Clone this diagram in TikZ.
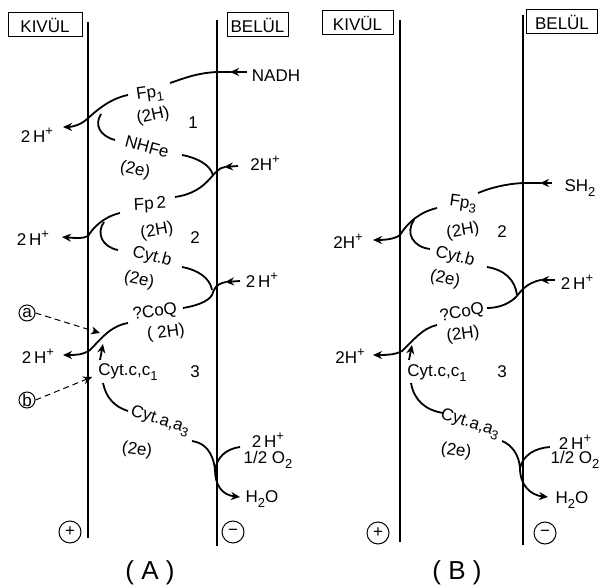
\documentclass[tikz,border=0pt]{standalone}
\usepackage{fontspec}
\setmainfont{Liberation Sans}
\usetikzlibrary{arrows.meta}
\newcommand\lsub[1]{\raisebox{-0.5ex}{\fontsize{6.5}{7}\selectfont #1}}
\newcommand\lsup[1]{\raisebox{0.8ex}{\fontsize{6.5}{7}\selectfont #1}}
\begin{document}
\begin{tikzpicture}[x=0.5pt,y=-0.5pt,
  t/.style={font=\fontsize{8.5}{10}\selectfont, inner sep=0pt},
  lbox/.style={draw, line width=0.5pt, inner sep=0pt, minimum height=12pt, font=\fontsize{8.5}{10}\selectfont},
  mem/.style={line width=0.7pt},
  cv/.style={line width=0.9pt},
  arr/.style={-{Stealth[length=4.5pt,width=4pt]}},
  dsh/.style={dashed, dash pattern=on 3pt off 2pt, line width=0.5pt},
  ring/.style={draw, circle, line width=0.5pt, inner sep=0pt, font=\fontsize{8.5}{10}\selectfont}]
\useasboundingbox (0,0) rectangle (603,587);

% ---------------- Panel A ----------------
\node[lbox, minimum width=37pt] (kivA) at (45,25) {KIVÜL};
\node[lbox, minimum width=30.5pt] (belA) at (257.5,25) {BELÜL};
\coordinate (mAlt) at (88,22);  \coordinate (mAlb) at (88,538);
\coordinate (mArt) at (217,20); \coordinate (mArb) at (217,546);
\draw[mem] (mAlt) -- (mAlb);
\draw[mem] (mArt) -- (mArb);

\node[t] (nadh) at (276,76) {NADH};
\node[t, rotate=8] (fp1) at (150,94) {Fp\lsub{1}};
\node[t, rotate=12] (fp1h) at (153,116) {(2H)};
\node[t] (n1) at (193,123) {1};
\node[t] (hA1) at (37,135) {2\,H\lsup{+}};
\node[t, rotate=-15] (nhfe) at (147,147) {NHFe};
\node[t, rotate=-12] (nhfee) at (135,170) {(2e)};
\node[t] (hA2) at (265,163) {2H\lsup{+}};
\node[t, rotate=3] (fp2) at (150,205) {Fp\,2};
\node[t, rotate=10] (fp2h) at (157,231) {(2H)};
\node[t] (n2) at (195,238) {2};
\node[t] (hA3) at (33,238) {2\,H\lsup{+}};
\node[t, rotate=-15] (cytb) at (152,257) {Cyt.b};
\node[t, rotate=-12] (cytbe) at (139,280) {(2e)};
\node[t] (hA4) at (262,280) {2\,H\lsup{+}};
\node[t, rotate=8] (coq) at (155,312) {?CoQ};
\node[t, rotate=8] (coqh) at (166,333) {( 2H)};
\node[t] (hA5) at (38,356) {2\,H\lsup{+}};
\node[t] (cytc) at (128,372) {Cyt.c,c\lsub{1}};
\node[t] (n3) at (195,372) {3};
\node[t, rotate=-18] (cyta) at (160,421) {Cyt.a,a\lsub{3}};
\node[t, rotate=-8] (cytae) at (137,450) {(2e)};
\node[t] (hA6) at (268,440) {2\,H\lsup{+}};
\node[t] (o2A) at (268,460) {1/2 O\lsub{2}};
\node[t] (h2oA) at (262,499) {H\lsub{2}O};
\node[ring, minimum size=11pt] (plusA) at (70,532) {+};
\node[ring, minimum size=11pt] (minusA) at (233,532) {−};
\node[ring, minimum size=8pt] (ca) at (27,313) {a};
\node[ring, minimum size=8pt] (cb) at (27,400) {b};
\node[font=\fontsize{13}{15}\selectfont] (labA) at (150,573) {( A )};

% connectors A
\draw[cv, arr] (247,72) -- (230,72);
\draw[cv] (231,72) -- (217,72) .. controls (197,73) and (185,78) .. (170,83);
\draw[cv, arr] (128,95) .. controls (108,99) and (94,113) .. (86,120) .. controls (80,125) and (72,127) .. (63,127);
\draw[cv] (101,114) .. controls (94,125) and (100,136) .. (115,140);
\draw[cv] (182,155) .. controls (198,158) and (210,165) .. (213,175);
\draw[cv, arr] (238,166) -- (224,167);
\draw[cv] (225,167) .. controls (212,168) and (210,192) .. (175,197);
\draw[cv, arr] (120,213) .. controls (103,217) and (93,228) .. (88,236) .. controls (83,239) and (75,238) .. (62,237);
\draw[cv] (104,222) .. controls (96,233) and (102,247) .. (118,250);
\draw[cv] (182,267) .. controls (198,270) and (210,278) .. (212,290);
\draw[cv, arr] (240,281) -- (225,282);
\draw[cv] (226,282) .. controls (215,284) and (214,290) .. (212,295) .. controls (208,302) and (195,306) .. (183,308);
\draw[cv, arr] (128,323) .. controls (110,326) and (100,340) .. (90,350) .. controls (83,355) and (75,355) .. (63,355);
\draw[cv, arr] (100,360) -- (103,344);
\draw[dsh, arr] (ca.east) -- (100,333);
\draw[dsh, arr] (cb.east) -- (92,377);
\draw[cv] (103,383) .. controls (106,398) and (115,407) .. (128,411);
\draw[cv] (192,441) .. controls (205,443) and (213,452) .. (215,470);
\draw[cv] (240,447) .. controls (225,449) and (217,458) .. (215,470);
\draw[cv, arr] (215,470) .. controls (215,485) and (222,495) .. (240,497);

% ---------------- Panel B ----------------
\node[lbox, minimum width=35.5pt] (kivB) at (357.5,23) {KIVÜL};
\node[lbox, minimum width=35.5pt] (belB) at (562,22) {BELÜL};
\coordinate (mBlt) at (400,20);  \coordinate (mBlb) at (400,542);
\coordinate (mBrt) at (523,15);  \coordinate (mBrb) at (523,545);
\draw[mem] (mBlt) -- (mBlb);
\draw[mem] (mBrt) -- (mBrb);

\node[t] (sh2) at (580,188) {SH\lsub{2}};
\node[t, rotate=-8] (fp3) at (463,204) {Fp\lsub{3}};
\node[t, rotate=10] (fp3h) at (463,231) {(2H)};
\node[t] (nB2) at (502,232) {2};
\node[t] (hB1) at (348,241) {2H\lsup{+}};
\node[t, rotate=-15] (cytbB) at (455,257) {Cyt.b};
\node[t, rotate=-12] (cytbeB) at (445,279) {(2e)};
\node[t] (hB2) at (577,282) {2\,H\lsup{+}};
\node[t, rotate=10] (coqB) at (462,313) {?CoQ};
\node[t, rotate=8] (coqhB) at (463,335) {(2H)};
\node[t] (hB3) at (350,356) {2H\lsup{+}};
\node[t] (cytcB) at (437,373) {Cyt.c,c\lsub{1}};
\node[t] (nB3) at (502,372) {3};
\node[t, rotate=-18] (cytaB) at (470,424) {Cyt.a,a\lsub{3}};
\node[t, rotate=-8] (cytaeB) at (456,451) {(2e)};
\node[t] (hB4) at (575,442) {2\,H\lsup{+}};
\node[t] (o2B) at (575,460) {1/2 O\lsub{2}};
\node[t] (h2oB) at (572,500) {H\lsub{2}O};
\node[ring, minimum size=11pt] (plusB) at (378,533) {+};
\node[ring, minimum size=11pt] (minusB) at (545,533) {−};
\node[font=\fontsize{13}{15}\selectfont] (labB) at (457,573) {( B )};

% connectors B
\draw[cv, arr] (552,183) -- (540,183);
\draw[cv] (541,183) -- (523,183) .. controls (505,184) and (490,188) .. (478,193);
\draw[cv, arr] (437,208) .. controls (420,212) and (408,222) .. (400,235) .. controls (395,239) and (385,240) .. (373,240);
\draw[cv] (414,220) .. controls (405,233) and (413,247) .. (430,249);
\draw[cv] (487,267) .. controls (505,270) and (515,280) .. (517,295);
\draw[cv, arr] (555,280) -- (540,280);
\draw[cv] (541,280) .. controls (525,283) and (520,293) .. (515,298) .. controls (507,305) and (497,308) .. (487,308);
\draw[cv, arr] (437,325) .. controls (422,328) and (412,342) .. (402,351) .. controls (395,355) and (385,355) .. (373,355);
\draw[cv, arr] (409,360) -- (412,345);
\draw[cv] (411,383) .. controls (414,400) and (425,410) .. (443,413);
\draw[cv] (502,441) .. controls (512,445) and (519,455) .. (520,468);
\draw[cv] (550,447) .. controls (535,448) and (523,455) .. (520,468);
\draw[cv, arr] (520,468) .. controls (520,485) and (530,495) .. (548,497);
\end{tikzpicture}
\end{document}
